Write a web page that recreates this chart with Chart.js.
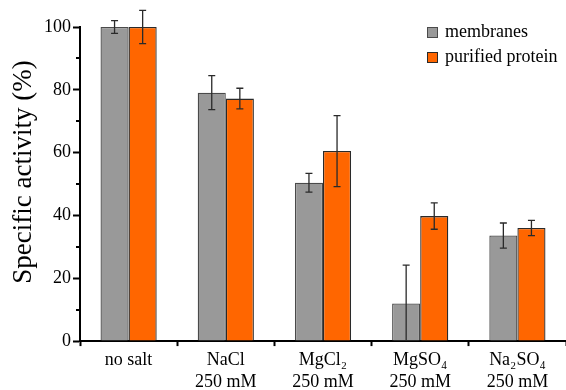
<!DOCTYPE html>
<html>
<head>
<meta charset="utf-8">
<script src="https://cdn.jsdelivr.net/npm/chart.js@4"></script>
<style>
  html, body { margin: 0; padding: 0; background: #fff; }
  #wrap { width: 566px; height: 390px; }
</style>
</head>
<body>
<div id="wrap"><canvas id="salts"></canvas></div>
<script>
// values
const categories = [
  ["no salt"],
  ["NaCl", "250 mM"],
  ["MgCl\u2082", "250 mM"],
  ["MgSO\u2084", "250 mM"],
  ["Na\u2082SO\u2084", "250 mM"]
];
const membranes = [100, 79.1, 50.4, 12.0, 33.6];
const membranesErr = [2.0, 5.4, 3.0, 12.2, 4.0];
const purified = [100, 77.2, 60.5, 39.8, 36.0];
const purifiedErr = [5.3, 3.3, 11.3, 4.2, 2.4];
const yTicks = [0, 20, 40, 60, 80, 100];
const yMinorTicks = [10, 30, 50, 70, 90];
const yTitle = "Specific activity (%)";

const serif = "'Liberation Serif', 'Times New Roman', serif";

// error bars, drawn through the y scale
const errorBars = {
  id: "errorBars",
  afterDatasetsDraw(chart) {
    const ctx = chart.ctx;
    const y = chart.scales.y;
    ctx.save();
    ctx.strokeStyle = "#2a2a2a";
    ctx.lineWidth = 1.3;
    chart.data.datasets.forEach((ds, i) => {
      const meta = chart.getDatasetMeta(i);
      meta.data.forEach((bar, j) => {
        const v = ds.data[j];
        const e = ds.errors[j];
        const top = y.getPixelForValue(v + e);
        const bot = y.getPixelForValue(Math.max(v - e, 0));
        ctx.beginPath();
        ctx.moveTo(bar.x, top);
        ctx.lineTo(bar.x, bot);
        ctx.moveTo(bar.x - 3.5, top);
        ctx.lineTo(bar.x + 3.5, top);
        if (v - e > 0) {
          ctx.moveTo(bar.x - 3.5, bot);
          ctx.lineTo(bar.x + 3.5, bot);
        }
        ctx.stroke();
      });
    });
    ctx.restore();
  }
};

// short minor ticks on the y axis + the axis title (sits a bit above centre in the original)
const yExtras = {
  id: "yExtras",
  afterDraw(chart) {
    const ctx = chart.ctx;
    const y = chart.scales.y;
    const area = chart.chartArea;
    ctx.save();
    ctx.strokeStyle = "#000";
    ctx.lineWidth = 2;
    yMinorTicks.forEach(v => {
      const py = Math.round(y.getPixelForValue(v));
      ctx.beginPath();
      ctx.moveTo(area.left - 4, py);
      ctx.lineTo(area.left, py);
      ctx.stroke();
    });
    ctx.translate(24, (area.top + area.bottom) / 2 - 12);
    ctx.rotate(-Math.PI / 2);
    ctx.font = "27px " + serif;
    ctx.fillStyle = "#000";
    ctx.textAlign = "center";
    ctx.textBaseline = "middle";
    ctx.fillText(yTitle, 0, 0);
    ctx.restore();
  }
};

// legend in the top right corner of the plot
const cornerLegend = {
  id: "cornerLegend",
  afterDraw(chart) {
    const ctx = chart.ctx;
    const area = chart.chartArea;
    let bx = area.right - 139;
    let by = area.top;
    ctx.save();
    ctx.font = "18px " + serif;
    ctx.textBaseline = "middle";
    chart.data.datasets.forEach(ds => {
      ctx.fillStyle = ds.backgroundColor;
      ctx.fillRect(bx, by, 10, 10);
      ctx.strokeStyle = ds.borderColor;
      ctx.lineWidth = 1;
      ctx.strokeRect(bx + 0.5, by + 0.5, 10, 10);
      ctx.fillStyle = "#000";
      ctx.fillText(ds.label, bx + 18, by + 5);
      by += 25;
    });
    ctx.restore();
  }
};

new Chart(document.getElementById("salts"), {
  type: "bar",
  data: {
    labels: categories,
    datasets: [
      {
        label: "membranes",
        data: membranes,
        errors: membranesErr,
        backgroundColor: "#999999",
        borderColor: "#4a4a4a",
        borderWidth: 1.3,
        categoryPercentage: 0.578,
        barPercentage: 1.0
      },
      {
        label: "purified protein",
        data: purified,
        errors: purifiedErr,
        backgroundColor: "#ff6600",
        borderColor: "#2a2a2a",
        borderWidth: 1.3,
        categoryPercentage: 0.578,
        barPercentage: 1.0
      }
    ]
  },
  options: {
    responsive: true,
    maintainAspectRatio: false,
    animation: false,
    layout: { padding: { top: 27, left: 42, right: 0, bottom: -6 } },
    plugins: {
      legend: { display: false },
      tooltip: { enabled: false }
    },
    scales: {
      x: {
        grid: {
          offset: true,
          drawOnChartArea: false,
          tickLength: 5,
          tickWidth: 2,
          tickColor: "#000"
        },
        border: { color: "#000", width: 2 },
        ticks: {
          color: "#000",
          padding: 3,
          maxRotation: 0,
          autoSkip: false,
          font: { family: serif, size: 18, lineHeight: 1.22 }
        }
      },
      y: {
        min: 0,
        max: 100,
        afterBuildTicks: (axis) => {
          axis.ticks = yTicks.map(v => ({ value: v }));
        },
        grid: {
          drawOnChartArea: false,
          tickLength: 7,
          tickWidth: 2,
          tickColor: "#000"
        },
        border: { color: "#000", width: 2 },
        ticks: {
          color: "#000",
          padding: 2,
          font: { family: serif, size: 18 }
        }
      }
    }
  },
  plugins: [errorBars, yExtras, cornerLegend]
});
</script>
</body>
</html>
